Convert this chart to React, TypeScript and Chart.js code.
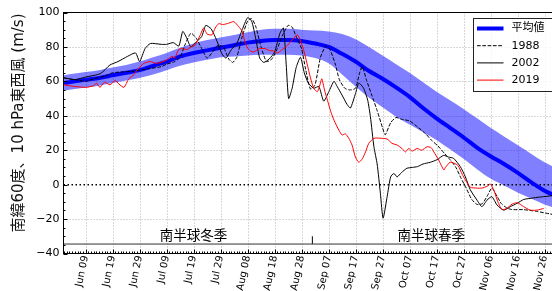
import React, { useEffect, useRef } from 'react';
import { Chart, registerables } from 'chart.js';
Chart.register(...registerables);

// ---- axis / labels ----
const xTickDays = [8, 18, 28, 38, 48, 58, 68, 78, 88, 98, 108, 118, 128, 138, 148, 158, 168, 178];
const xTickLabels = ['Jun 09', 'Jun 19', 'Jun 29', 'Jul 09', 'Jul 19', 'Jul 29', 'Aug 08', 'Aug 18', 'Aug 28',
  'Sep 07', 'Sep 17', 'Sep 27', 'Oct 07', 'Oct 17', 'Oct 27', 'Nov 06', 'Nov 16', 'Nov 26'];
const yTickValues = [-40, -20, 0, 20, 40, 60, 80, 100];
const yTickLabels = ['−40', '−20', '0', '20', '40', '60', '80', '100'];
const yTitle = '南緯60度、10 hPa東西風 (m/s)';
const legendLabels = ['平均値', '1988', '2002', '2019'];
const seasonLabels = ['南半球冬季', '南半球春季'];
const seasonLabelDays = [48, 136];
const seasonLabelValue = -30;
const seasonLineValue = -34.5;
const seasonDividerDay = 92;
const seasonDividerTop = -30;
const X_MIN = -0.2;
const X_MAX = 183;

// ---- climatology (days since Jun 1) ----
const bandDays = [0, 4, 8, 13, 18, 23, 28, 33, 38, 43, 48, 53, 58, 63, 68, 73, 78, 83, 88, 93, 98, 103, 108, 113, 118, 123, 128, 133, 138, 143, 148, 153, 158, 163, 168, 173, 178, 183];
const meanVals = [59, 60, 61, 62, 63.5, 65, 66.5, 69, 71.5, 74.5, 76.5, 78, 79.5, 81, 82.5, 83.5, 84, 84, 83.5, 82, 80, 76, 71.5, 66, 61.5, 56.5, 51, 44.5, 38.5, 33, 27.5, 21.5, 16.5, 12, 7, 1.5, -3.5, -7];
const upperVals = [63.5, 64.5, 65.5, 66.5, 68, 69.5, 71.5, 74, 76.5, 79.5, 82, 84, 85.5, 87, 88.5, 90, 90.5, 90.5, 90, 89.5, 89, 87.5, 84.5, 80, 75, 70, 65, 59.5, 54, 49, 44, 38.5, 33, 28, 23, 18, 13, 9];
const lowerVals = [54.5, 55.5, 56.5, 57.5, 59, 60.5, 62, 64, 66.5, 69, 71, 72.5, 74, 74.5, 75, 75.5, 75.5, 75.5, 75, 73.5, 70.5, 64, 57, 50.5, 45, 39.5, 35, 30.5, 26, 20.5, 15, 9, 3.5, -0.5, -4.5, -8, -11.5, -14];

// ---- 1988 ----
const days1988 = [0, 4, 8, 11, 15, 18, 22, 26, 28, 32, 36, 38, 41, 43, 45, 47, 49, 51, 53, 55, 57, 59, 61, 62.5, 64, 66, 68, 69.5, 71, 73, 75, 77, 79, 81, 83, 84.5, 86, 88, 89.5, 91.3, 93, 95, 97, 98.5, 100.5, 102, 104, 106, 108, 109.5, 110.5, 112, 114, 116, 118, 119, 121, 123, 125, 128, 131, 134, 136, 138.5, 141, 143, 145, 147, 149, 151, 153, 155, 157, 158.5, 160.5, 162, 164, 166, 170, 175, 180, 183];
const vals1988 = [62, 61, 60, 61.5, 63, 65, 65.5, 66, 66.5, 67.5, 68.5, 70, 71.5, 74, 82, 88, 85, 79, 73.5, 77, 81, 80, 73, 71, 74, 86, 95, 96.5, 92, 80, 71.5, 73, 79, 87, 92.5, 91.5, 86, 79, 67, 55.5, 58, 74, 80.5, 78.5, 70, 61, 56, 55, 56, 65, 68.5, 61, 52, 43, 33, 29, 36, 39, 38, 37, 33.5, 29.5, 26, 22.5, 18, 14.5, 10.5, 4, -2, -8.5, -11.5, -11, -6, -2, -7, -11, -13.5, -14.5, -14.5, -15.5, -17, -18];

// ---- 2002 ----
const days2002 = [0, 4, 8, 13.5, 17, 20, 23.5, 26.5, 28, 30, 32, 36, 38, 40.5, 42.5, 44, 45.5, 47, 49, 51, 52.5, 54.5, 56.5, 58.5, 60, 62, 64, 66, 68, 69.5, 71, 72.5, 74, 76, 78, 80, 81.3, 82.3, 83.2, 84.5, 86, 87.6, 89, 90.5, 92.5, 94.4, 96.2, 98.1, 100, 101.2, 103, 104.9, 106.1, 108, 109.2, 111, 112.5, 113.5, 114.8, 116, 117.2, 118.2, 119.7, 121, 122.2, 123.4, 125, 127, 129, 131, 133, 135.7, 138.2, 140.6, 142.5, 144.3, 146.8, 148.7, 150.5, 153, 154.8, 156.7, 158.5, 160.4, 162.9, 165.3, 167.8, 170.3, 172.7, 175.2, 177.7, 183];
const vals2002 = [62, 61, 62.5, 64.5, 69.5, 71.5, 74.5, 76.5, 71.5, 79, 82, 81.5, 81.5, 82.5, 80.5, 89, 85, 80, 83, 86, 92.5, 90.5, 84, 76, 73.5, 78.5, 82, 90, 97, 95, 85, 73.5, 71, 73, 77, 88, 91, 70, 50, 56, 68, 74, 65, 59, 56, 57, 48.5, 54, 60, 57, 52, 46.5, 44.5, 53, 59, 56, 49, 39.5, 22, 12, -5, -19.5, -7, 4.5, 6.5, 4.5, 7, 9.5, 10, 10.5, 12, 13, 14.5, 17, 16, 15.3, 10.5, 4.5, -3, -9, -12.8, -9, -7, -11.8, -14.8, -12.8, -10.9, -8.6, -8, -7.4, -7, -6];

// ---- 2019 ----
const days2019 = [0, 4, 8, 11, 12, 13.3, 15, 17, 19, 20.3, 22.2, 24, 26, 27, 29.6, 32, 34, 36, 38.2, 40, 41, 42.5, 44, 45.6, 47, 48.5, 50.5, 51.7, 53, 54.8, 56, 57.3, 59, 61, 62.9, 64.7, 66, 67.2, 68.4, 70, 72.5, 74.5, 76, 78, 79, 80.5, 82.8, 84.5, 86.4, 87.5, 88.8, 90, 91.3, 92.5, 93.8, 94.8, 95.5, 96.5, 97.6, 98.8, 100, 101.8, 103, 104.2, 105.5, 106.7, 107.9, 109.2, 110.5, 111.7, 112.9, 114.8, 117, 119.7, 121.5, 123.4, 125.2, 126.5, 127.7, 129, 130.8, 132.5, 134.5, 136, 137, 138.8, 140.7, 141.3, 143, 144.5, 146, 147.5, 148.7, 150.5, 152.9, 154.8, 156.7, 157.9, 159.2, 160.5, 162.2, 164, 166, 168, 170.3, 172.7, 175.2, 177.7];
const vals2019 = [58, 57, 56.5, 57.5, 59, 56.5, 59.5, 58, 60.5, 58.5, 56.5, 61.5, 64, 66.5, 70.5, 71.5, 70.5, 71, 72.5, 74.5, 73.5, 78.5, 79, 78.5, 80, 81, 87, 91, 87.5, 87, 91, 93.5, 93, 93.8, 94.7, 91.8, 89, 82, 78.5, 77, 79, 79, 78, 77.5, 76.5, 78, 81, 84, 87, 84, 78, 70.5, 62, 56, 54, 58, 61.5, 55, 49, 42.5, 37.5, 31.7, 28.8, 29.5, 27, 23, 16.2, 13, 15, 19, 24, 26.9, 27, 26.5, 24, 23, 21, 19, 21, 19.5, 21, 20, 22, 21.5, 19, 14.3, 8.5, 10, 13, 12.5, 11, 6, 2.7, -1.5, -2, -2, -1, 0.4, -3, -9, -14.5, -13.8, -11.3, -10.5, -12.8, -14.8, -14.8, -13.8];

const FONT = '"DejaVu Sans", "Noto Sans CJK JP", sans-serif';

function pts(xs: number[], ys: number[]) {
  return xs.map((x, i) => ({ x, y: ys[i] }));
}

export default function App() {
  const ref = useRef<HTMLCanvasElement>(null);

  useEffect(() => {
    const canvas = ref.current;
    if (!canvas) return;

    const line = (ctx: CanvasRenderingContext2D, x1: number, y1: number, x2: number, y2: number) => {
      ctx.beginPath();
      ctx.moveTo(x1, y1);
      ctx.lineTo(x2, y2);
      ctx.stroke();
    };

    const overlay = {
      id: 'overlay',
      beforeDatasetsDraw(chart: any) {
        const { ctx, chartArea: a, scales } = chart;
        const x = scales.x, y = scales.y;
        ctx.save();
        ctx.strokeStyle = '#b0b0b0';
        ctx.lineWidth = 1;
        ctx.setLineDash([1, 2]);
        xTickDays.forEach((d) => {
          const px = Math.round(x.getPixelForValue(d)) + 0.5;
          line(ctx, px, a.top, px, a.bottom);
        });
        yTickValues.forEach((v) => {
          if (v === 0 || v === -40 || v === 100) return;
          const py = Math.round(y.getPixelForValue(v)) + 0.5;
          line(ctx, a.left, py, a.right, py);
        });
        ctx.restore();
      },
      afterDatasetsDraw(chart: any) {
        const { ctx, chartArea: a, scales } = chart;
        const x = scales.x, y = scales.y;
        ctx.save();
        ctx.setLineDash([]);
        // frame
        ctx.strokeStyle = '#000';
        ctx.lineWidth = 1;
        ctx.strokeRect(a.left, a.top, a.right - a.left, a.bottom - a.top);
        // x ticks (inward)
        for (let d = 0; d <= X_MAX; d += 1) {
          const major = xTickDays.indexOf(d) >= 0;
          const px = Math.round(x.getPixelForValue(d)) + 0.5;
          line(ctx, px, a.bottom, px, a.bottom - (major ? 4 : 2));
        }
        // y ticks (inward)
        for (let v = -40; v <= 100; v += 5) {
          const major = v % 20 === 0;
          const py = Math.round(y.getPixelForValue(v)) + 0.5;
          line(ctx, a.left, py, a.left + (major ? 4 : 2), py);
        }
        // season labels
        ctx.fillStyle = '#000';
        ctx.font = `13.5px ${FONT}`;
        ctx.textAlign = 'center';
        ctx.textBaseline = 'middle';
        seasonLabels.forEach((t, i) => {
          ctx.fillText(t, x.getPixelForValue(seasonLabelDays[i]), y.getPixelForValue(seasonLabelValue));
        });
        // y title
        ctx.save();
        ctx.translate(19.5, (a.top + a.bottom) / 2 - 10);
        ctx.rotate(-Math.PI / 2);
        ctx.font = `15px ${FONT}`;
        ctx.fillStyle = '#111';
        ctx.textAlign = 'center';
        ctx.textBaseline = 'middle';
        ctx.fillText(yTitle, 0, 0);
        ctx.restore();
        // legend
        const lx = a.right - 84.5;
        const ly = 18.5;
        ctx.fillStyle = 'rgba(255,255,255,0.8)';
        ctx.fillRect(lx, ly, 82, 73);
        ctx.strokeStyle = '#222';
        ctx.lineWidth = 1;
        ctx.strokeRect(lx, ly, 82, 73);
        const styles = [
          { c: '#0000ff', w: 4, dash: [] as number[] },
          { c: '#000', w: 1, dash: [3.7, 1.6] },
          { c: '#000', w: 1, dash: [] as number[] },
          { c: '#ff0000', w: 1, dash: [] as number[] },
        ];
        ctx.font = `11px ${FONT}`;
        ctx.textAlign = 'left';
        ctx.textBaseline = 'middle';
        legendLabels.forEach((t, i) => {
          const yy = 28.5 + i * 17.2;
          const st = styles[i];
          ctx.strokeStyle = st.c;
          ctx.lineWidth = st.w;
          ctx.setLineDash(st.dash);
          line(ctx, lx + 3.5, yy, lx + 30, yy);
          ctx.setLineDash([]);
          ctx.fillStyle = '#000';
          ctx.fillText(t, lx + 38, yy);
        });
        ctx.restore();
      },
    };

    const chart = new Chart(canvas, {
      type: 'line',
      data: {
        datasets: [
          { label: '2019', data: pts(days2019, vals2019), borderColor: '#ff0000', borderWidth: 1, tension: 0.2, pointRadius: 0, fill: false },
          { label: '2002', data: pts(days2002, vals2002), borderColor: '#000000', borderWidth: 1, tension: 0.2, pointRadius: 0, fill: false },
          { label: '1988', data: pts(days1988, vals1988), borderColor: '#000000', borderWidth: 1, borderDash: [3.7, 1.6], tension: 0.2, pointRadius: 0, fill: false },
          { label: '平均値', data: pts(bandDays, meanVals), borderColor: '#0000ff', borderWidth: 4, cubicInterpolationMode: 'monotone', pointRadius: 0, fill: false },
          { label: 'zero', data: [{ x: X_MIN, y: 0 }, { x: X_MAX, y: 0 }], borderColor: '#000000', borderWidth: 1.5, borderDash: [1.5, 2.5], pointRadius: 0, fill: false },
          { label: 'seasonLine', data: [{ x: X_MIN, y: seasonLineValue }, { x: X_MAX, y: seasonLineValue }], borderColor: '#333333', borderWidth: 1, pointRadius: 0, fill: false },
          { label: 'seasonDivider', data: [{ x: seasonDividerDay, y: seasonLineValue }, { x: seasonDividerDay, y: seasonDividerTop }], borderColor: '#000000', borderWidth: 1, pointRadius: 0, fill: false },
          { label: 'upper', data: pts(bandDays, upperVals), borderColor: 'rgba(0,0,0,0)', borderWidth: 0, backgroundColor: 'rgba(0,0,255,0.5)', cubicInterpolationMode: 'monotone', pointRadius: 0, fill: '+1' },
          { label: 'lower', data: pts(bandDays, lowerVals), borderColor: 'rgba(0,0,0,0)', borderWidth: 0, cubicInterpolationMode: 'monotone', pointRadius: 0, fill: false },
        ] as any,
      },
      options: {
        animation: false,
        responsive: false,
        devicePixelRatio: 1,
        layout: { padding: { top: 12.5, right: 42, bottom: 0, left: 0 } },
        plugins: { legend: { display: false }, tooltip: { enabled: false } },
        elements: { point: { radius: 0 } },
        scales: {
          x: {
            type: 'linear',
            min: X_MIN,
            max: X_MAX,
            grid: { display: false, drawTicks: false },
            border: { display: false },
            afterBuildTicks: (s: any) => { s.ticks = xTickDays.map((v) => ({ value: v })); },
            afterFit: (s: any) => { s.height = 66.5; },
            ticks: {
              autoSkip: false,
              minRotation: 78,
              maxRotation: 78,
              padding: 1,
              color: '#000',
              font: { family: FONT, size: 10 },
              callback: (_v: any, i: number) => xTickLabels[i],
            },
          },
          y: {
            type: 'linear',
            min: -40,
            max: 100,
            grid: { display: false, drawTicks: false },
            border: { display: false },
            afterBuildTicks: (s: any) => { s.ticks = yTickValues.map((v) => ({ value: v })); },
            afterFit: (s: any) => { s.width = 63.5; },
            ticks: {
              padding: 4,
              color: '#000',
              font: { family: FONT, size: 11 },
              callback: (_v: any, i: number) => yTickLabels[i],
            },
          },
        },
      } as any,
      plugins: [overlay],
    });

    return () => chart.destroy();
  }, []);

  return (
    <div style={{ position: 'absolute', left: 0, top: 0, width: 552, height: 291, overflow: 'hidden', background: '#fff' }}>
      <canvas ref={ref} width={600} height={320} style={{ width: 600, height: 320, display: 'block' }} />
    </div>
  );
}
